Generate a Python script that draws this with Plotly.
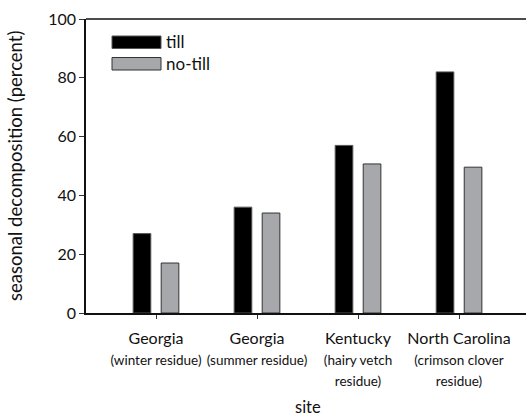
import plotly.graph_objects as go

sites = ["Georgia", "Georgia", "Kentucky", "North Carolina"]
subtitles = ["(winter residue)", "(summer residue)", "(hairy vetch<br>residue)", "(crimson clover<br>residue)"]
till = [27, 36, 57, 82]
no_till = [17, 34, 50.7, 49.6]
series_names = ["till", "no-till"]
y_ticks = [0, 20, 40, 60, 80, 100]

FONT = "Lato"
labels = [f"{s}<br><span style='font-size:13.5px'>{sub}</span>" for s, sub in zip(sites, subtitles)]

W = 440.0  # plot width (px)
H = 294.0  # plot height (px)


def px(x):
    return (x - 86) / W


def py(y):
    return (313 - y) / H


fig = go.Figure()
fig.add_trace(go.Bar(x=labels, y=till, name=series_names[0],
                     marker=dict(color="#000000", line=dict(color="#555555", width=1)),
                     showlegend=False))
fig.add_trace(go.Bar(x=labels, y=no_till, name=series_names[1],
                     marker=dict(color="#a7a8ab", line=dict(color="#333333", width=1)),
                     showlegend=False))

fig.update_layout(
    width=526, height=416,
    margin=dict(l=86, r=0, t=19, b=103),
    plot_bgcolor="white", paper_bgcolor="white",
    barmode="group", bargap=0.445, bargroupgap=0.37,
    font=dict(family=FONT, color="#111111", size=15),
    xaxis=dict(type="category", range=[-0.693, 3.663], showline=True, linecolor="#111111",
               linewidth=1.5, ticks="outside", ticklen=4, tickcolor="#333333",
               ticklabelstandoff=6,
               tickfont=dict(size=16, family=FONT), showgrid=False, zeroline=False),
    yaxis=dict(range=[0, 100], tickvals=y_ticks, showline=True, linecolor="#111111",
               linewidth=1.5, ticks="outside", ticklen=5, tickcolor="#333333",
               tickfont=dict(size=16, family=FONT), showgrid=False, zeroline=False),
    shapes=[
        dict(type="line", xref="paper", yref="paper", x0=0, x1=1, y0=1, y1=1,
             line=dict(color="#111111", width=1.5)),
        dict(type="rect", xref="paper", yref="paper", x0=px(112), x1=px(161),
             y0=py(48.5), y1=py(36), fillcolor="#000000",
             line=dict(color="#555555", width=1)),
        dict(type="rect", xref="paper", yref="paper", x0=px(112), x1=px(161),
             y0=py(70), y1=py(57.5), fillcolor="#a7a8ab",
             line=dict(color="#333333", width=1)),
    ],
    annotations=[
        dict(text=series_names[0], xref="paper", yref="paper", x=px(164), y=py(42),
             xanchor="left", yanchor="middle", showarrow=False, font=dict(size=17)),
        dict(text=series_names[1], xref="paper", yref="paper", x=px(164), y=py(63.5),
             xanchor="left", yanchor="middle", showarrow=False, font=dict(size=17)),
        dict(text="seasonal decomposition (percent)", xref="paper", yref="paper",
             x=px(15), y=py(166), xanchor="center", yanchor="middle", textangle=-90,
             showarrow=False, font=dict(size=18.5)),
        dict(text="site", xref="paper", yref="paper", x=px(308), y=py(407),
             xanchor="center", yanchor="middle", showarrow=False, font=dict(size=16.5)),
    ],
)

fig.write_html("out.html", config={"displayModeBar": False},
               post_script="document.body.style.margin='0';")
